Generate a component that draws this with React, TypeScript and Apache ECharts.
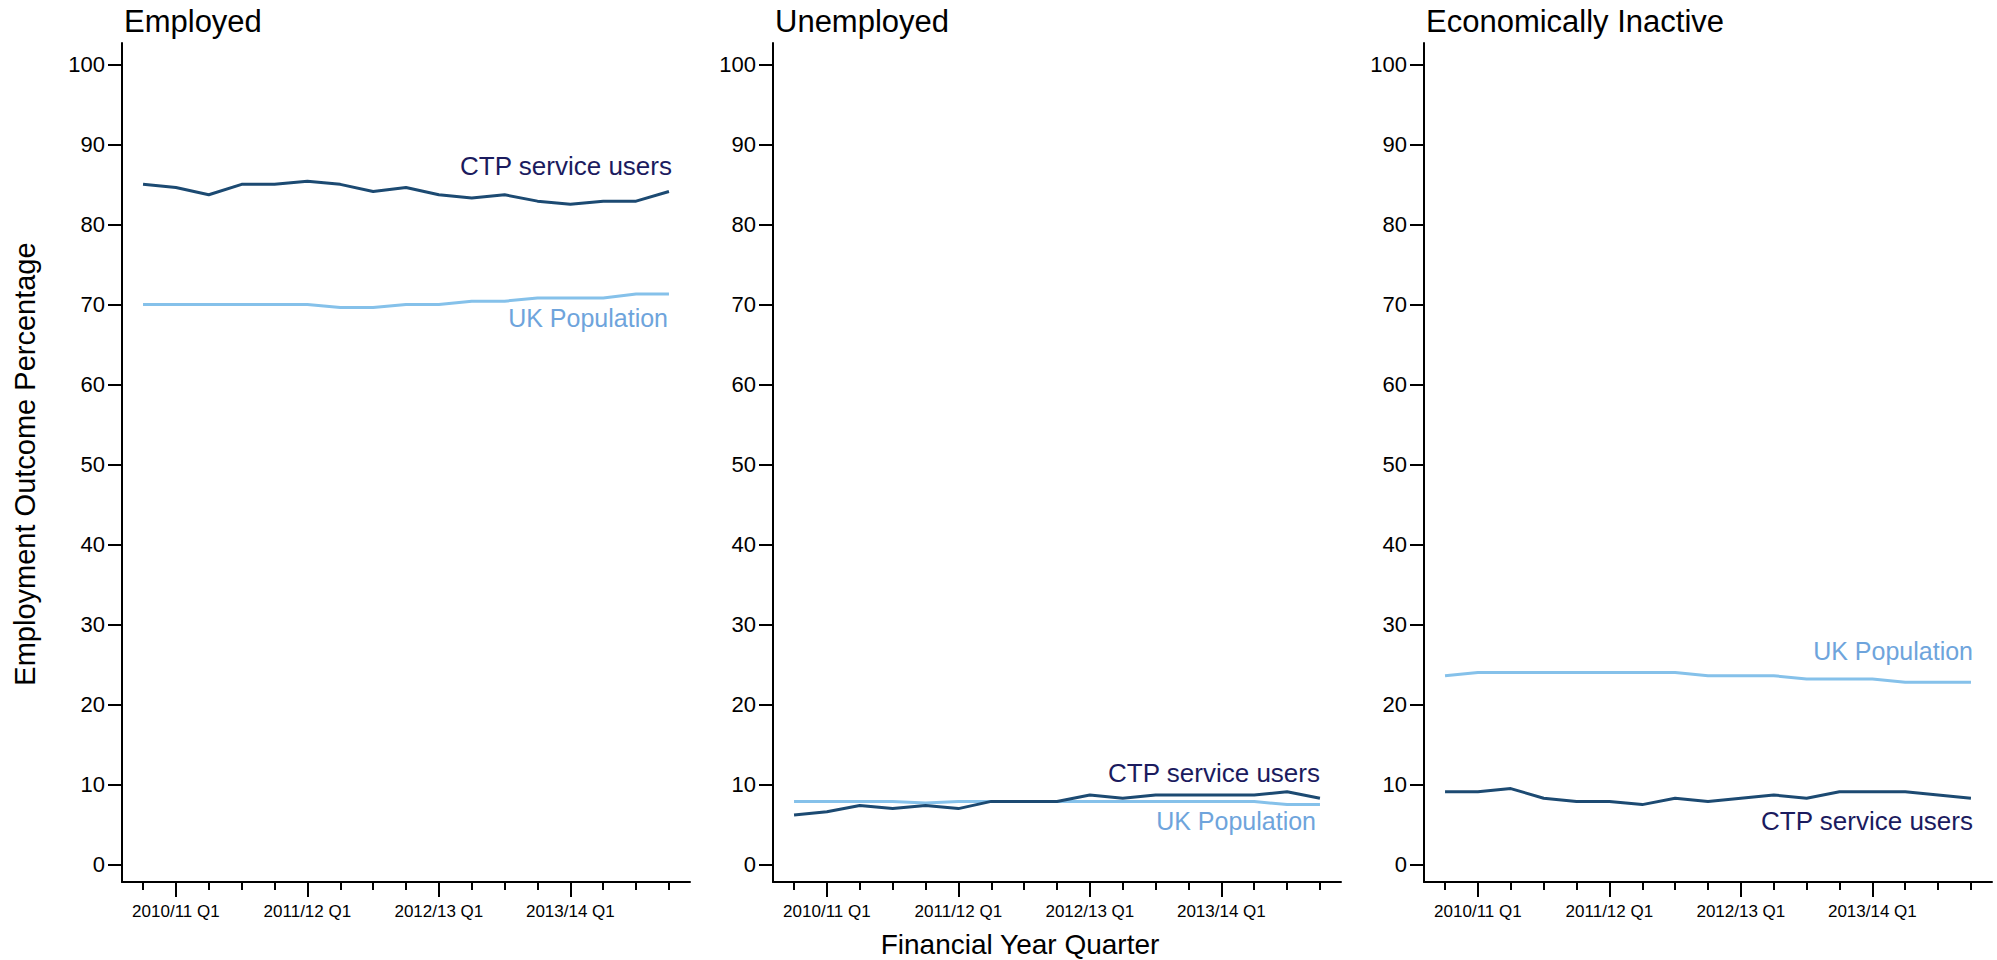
import React, { useEffect, useRef } from "react";
import * as echarts from "echarts";

// ---- data ----
const quarters = [
  "2009/10 Q4",
  "2010/11 Q1", "2010/11 Q2", "2010/11 Q3", "2010/11 Q4",
  "2011/12 Q1", "2011/12 Q2", "2011/12 Q3", "2011/12 Q4",
  "2012/13 Q1", "2012/13 Q2", "2012/13 Q3", "2012/13 Q4",
  "2013/14 Q1", "2013/14 Q2", "2013/14 Q3", "2013/14 Q4",
];
const labelledQuarters = [1, 5, 9, 13];
const yTickValues = [0, 10, 20, 30, 40, 50, 60, 70, 80, 90, 100];
const panelTitles = ["Employed", "Unemployed", "Economically Inactive"];
const seriesNames = ["CTP service users", "UK Population"];

const ctpEmployed = [85.0, 84.6, 83.7, 85.0, 85.0, 85.4, 85.0, 84.1, 84.6, 83.7, 83.3, 83.7, 82.9, 82.5, 82.9, 82.9, 84.1];
const ukEmployed = [70.0, 70.0, 70.0, 70.0, 70.0, 70.0, 69.6, 69.6, 70.0, 70.0, 70.4, 70.4, 70.8, 70.8, 70.8, 71.3, 71.3];

const ctpUnemployed = [6.2, 6.6, 7.4, 7.0, 7.4, 7.0, 7.9, 7.9, 7.9, 8.7, 8.3, 8.7, 8.7, 8.7, 8.7, 9.1, 8.3];
const ukUnemployed = [7.9, 7.9, 7.9, 7.9, 7.7, 7.9, 7.9, 7.9, 7.9, 7.9, 7.9, 7.9, 7.9, 7.9, 7.9, 7.5, 7.5];

const ctpInactive = [9.1, 9.1, 9.5, 8.3, 7.9, 7.9, 7.5, 8.3, 7.9, 8.3, 8.7, 8.3, 9.1, 9.1, 9.1, 8.7, 8.3];
const ukInactive = [23.6, 24.0, 24.0, 24.0, 24.0, 24.0, 24.0, 24.0, 23.6, 23.6, 23.6, 23.2, 23.2, 23.2, 22.8, 22.8, 22.8];

const ctpSets = [ctpEmployed, ctpUnemployed, ctpInactive];
const ukSets = [ukEmployed, ukUnemployed, ukInactive];

// ---- styles ----
const FONT = "'Liberation Sans', Arial, Helvetica, sans-serif";
const CTP_LINE = "#1c4a72";
const UK_LINE = "#85c1ea";
const CTP_TEXT = "#1b1b5e";
const UK_TEXT = "#6ea4dc";

export default function App() {
  const ref = useRef<HTMLDivElement>(null);

  useEffect(() => {
    if (!ref.current) return;
    const chart = echarts.init(ref.current, null, { renderer: "svg" });

    const lefts = [122, 773, 1424];
    const gridTop = 43;
    const gridH = 839;
    const gridW = 568;
    const xMin = -0.64;
    const xMax = 16.64;
    const axisColor = "#000";

    const grids = lefts.map((l) => ({ left: l, top: gridTop, width: gridW, height: gridH }));

    const xAxes: any[] = [];
    const yAxes: any[] = [];
    const series: any[] = [];

    lefts.forEach((_, i) => {
      xAxes.push({
        type: "value",
        gridIndex: i,
        min: xMin,
        max: xMax,
        position: "bottom",
        axisLine: { show: true, onZero: false, lineStyle: { color: axisColor, width: 2 } },
        axisTick: {
          show: true,
          customValues: quarters.map((_, k) => k),
          length: 8,
          lineStyle: { color: axisColor, width: 2 },
        },
        axisLabel: {
          show: true,
          customValues: labelledQuarters,
          formatter: (v: number) => quarters[Math.round(v)],
          fontSize: 17,
          color: "#000",
          fontFamily: FONT,
          margin: 21,
        },
        splitLine: { show: false },
      });
      xAxes.push({
        type: "value",
        gridIndex: i,
        min: xMin,
        max: xMax,
        position: "bottom",
        offset: 0,
        axisLine: { show: false, onZero: false },
        axisTick: {
          show: true,
          customValues: labelledQuarters,
          length: 15,
          lineStyle: { color: axisColor, width: 2 },
        },
        axisLabel: { show: false },
        splitLine: { show: false },
      });
      yAxes.push({
        type: "value",
        gridIndex: i,
        min: -2.17,
        max: 102.66,
        axisLine: { show: true, onZero: false, lineStyle: { color: axisColor, width: 2 } },
        axisTick: {
          show: true,
          customValues: yTickValues,
          length: 14,
          lineStyle: { color: axisColor, width: 2 },
        },
        axisLabel: {
          show: true,
          customValues: yTickValues,
          fontSize: 22,
          color: "#000",
          fontFamily: FONT,
          margin: 17,
        },
        splitLine: { show: false },
      });
      series.push({
        type: "line",
        name: seriesNames[1],
        xAxisIndex: 2 * i,
        yAxisIndex: i,
        data: ukSets[i].map((v, k) => [k, v]),
        showSymbol: false,
        lineStyle: { color: UK_LINE, width: 3 },
        itemStyle: { color: UK_LINE },
      });
      series.push({
        type: "line",
        name: seriesNames[0],
        xAxisIndex: 2 * i,
        yAxisIndex: i,
        data: ctpSets[i].map((v, k) => [k, v]),
        showSymbol: false,
        lineStyle: { color: CTP_LINE, width: 3 },
        itemStyle: { color: CTP_LINE },
      });
    });

    const txt = (text: string, x: number, y: number, opts: any = {}) => ({
      type: "text",
      x,
      y,
      rotation: opts.rotation || 0,
      style: {
        text,
        fill: opts.fill || "#000",
        font: `${opts.size || 24}px ${FONT}`,
        textAlign: opts.align || "left",
        textVerticalAlign: "middle",
      },
    });

    const graphics: any[] = [];
    panelTitles.forEach((t, i) => graphics.push(txt(t, lefts[i] + 2, 21, { size: 31 })));
    graphics.push(txt("Employment Outcome Percentage", 25, 464, { size: 29, align: "center", rotation: Math.PI / 2 }));
    graphics.push(txt("Financial Year Quarter", 1020, 944, { size: 28, align: "center" }));

    // series annotations
    graphics.push(txt(seriesNames[0], 672, 166, { size: 26, align: "right", fill: CTP_TEXT }));
    graphics.push(txt(seriesNames[1], 668, 318, { size: 25, align: "right", fill: UK_TEXT }));
    graphics.push(txt(seriesNames[0], 1320, 773, { size: 26, align: "right", fill: CTP_TEXT }));
    graphics.push(txt(seriesNames[1], 1316, 821, { size: 25, align: "right", fill: UK_TEXT }));
    graphics.push(txt(seriesNames[1], 1973, 651, { size: 25, align: "right", fill: UK_TEXT }));
    graphics.push(txt(seriesNames[0], 1973, 821, { size: 26, align: "right", fill: CTP_TEXT }));

    chart.setOption({
      animation: false,
      backgroundColor: "#fff",
      textStyle: { fontFamily: FONT },
      grid: grids,
      xAxis: xAxes,
      yAxis: yAxes,
      series,
      graphic: graphics,
    });

    return () => chart.dispose();
  }, []);

  return (
    <div
      ref={ref}
      style={{ position: "fixed", left: 0, top: 0, width: 1997, height: 960, background: "#fff" }}
    />
  );
}
